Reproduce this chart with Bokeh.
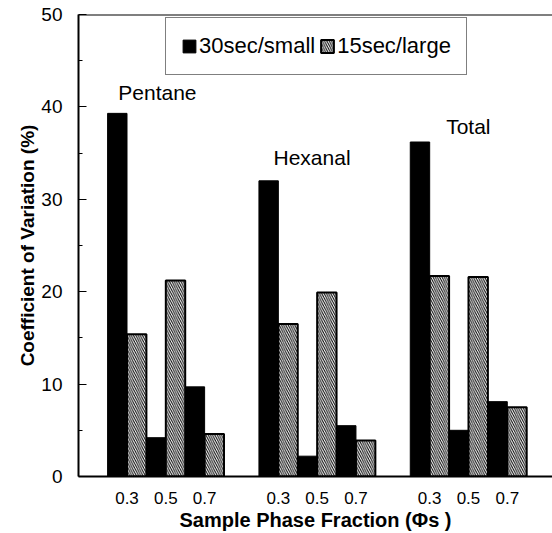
from bokeh.plotting import figure
from bokeh.models import ColumnDataSource, FixedTicker, Span, Legend, LegendItem, Label
from bokeh.embed import file_html
from bokeh.resources import INLINE

# ---- data ----
compounds = ["Pentane", "Hexanal", "Total"]
fractions = ["0.3", "0.5", "0.7"]
series_names = ["30sec/small", "15sec/large"]
cv_30sec_small = [[39.3, 4.2, 9.7],   # Pentane
                  [32.0, 2.2, 5.5],   # Hexanal
                  [36.2, 5.0, 8.1]]   # Total
cv_15sec_large = [[15.4, 21.2, 4.6],
                  [16.5, 19.9, 3.9],
                  [21.7, 21.6, 7.5]]
y_ticks = [0, 10, 20, 30, 40, 50]

# ---- layout (bar units) ----
group_start0 = 1.5
group_step = 7.8
bar_w = 1.0
FONT = "Liberation Sans"

x30, x15, top30, top15, tick_pos, tick_lab = [], [], [], [], [], []
for g, comp in enumerate(compounds):
    gs = group_start0 + g * group_step
    for i, fr in enumerate(fractions):
        left = gs + i * 2 * bar_w
        x30.append(left + 0.5 * bar_w)
        x15.append(left + 1.5 * bar_w)
        top30.append(cv_30sec_small[g][i])
        top15.append(cv_15sec_large[g][i])
        tick_pos.append(left + bar_w)
        tick_lab.append(fr)

src30 = ColumnDataSource(dict(x=x30, top=top30))
src15 = ColumnDataSource(dict(x=x15, top=top15))

p = figure(width=552, height=533, output_backend="svg", toolbar_location=None,
           x_range=(0, 24.43), y_range=(0, 50),
           min_border_left=78, min_border_top=14, min_border_right=0, min_border_bottom=55)
p.outline_line_color = None
p.xgrid.visible = False
p.ygrid.visible = False
p.background_fill_color = "white"

r30 = p.vbar(x="x", top="top", width=bar_w, source=src30, fill_color="black",
             line_color="black", line_width=1)
r15 = p.vbar(x="x", top="top", width=bar_w, source=src15, fill_color="white",
             line_color="black", line_width=2, hatch_pattern="\\", hatch_color="black",
             hatch_scale=4.5, hatch_weight=1)

# axes
p.yaxis.ticker = FixedTicker(ticks=y_ticks, minor_ticks=[5, 15, 25, 35, 45])
p.yaxis.major_tick_in = 8
p.yaxis.major_tick_out = 0
p.yaxis.minor_tick_in = 4
p.yaxis.minor_tick_out = 0
p.yaxis.axis_line_width = 2
p.yaxis.major_label_text_font = FONT
p.yaxis.major_label_text_font_size = "19px"
p.yaxis.major_label_text_color = "black"
p.yaxis.major_label_standoff = 16
p.yaxis.axis_label = "Coefficient of Variation (%)"
p.yaxis.axis_label_text_font = FONT
p.yaxis.axis_label_text_font_size = "19px"
p.yaxis.axis_label_text_font_style = "bold"
p.yaxis.axis_label_text_color = "black"
p.yaxis.axis_label_standoff = 0

p.xaxis.ticker = FixedTicker(ticks=tick_pos)
p.xaxis.major_label_overrides = {t: l for t, l in zip(tick_pos, tick_lab)}
p.xaxis.major_tick_in = 0
p.xaxis.major_tick_out = 0
p.xaxis.minor_tick_line_color = None
p.xaxis.axis_line_width = 2
p.xaxis.major_label_text_font = FONT
p.xaxis.major_label_text_font_size = "17px"
p.xaxis.major_label_text_color = "black"
p.xaxis.major_label_standoff = 15
p.xaxis.axis_label = "Sample Phase Fraction (\u03a6s )"
p.xaxis.axis_label_text_font = FONT
p.xaxis.axis_label_text_font_size = "20px"
p.xaxis.axis_label_text_font_style = "bold"
p.xaxis.axis_label_text_color = "black"
p.xaxis.axis_label_standoff = 2

# top frame line
p.add_layout(Span(location=50, dimension="width", line_color="black", line_width=2))

# compound labels
label_dx = [0.55, 0.75, 1.85]
label_dy = [1.0, 1.3, 0.4]
for g, comp in enumerate(compounds):
    gs = group_start0 + g * group_step
    ymax = max(cv_30sec_small[g] + cv_15sec_large[g])
    p.add_layout(Label(x=gs + label_dx[g], y=ymax + label_dy[g], text=comp,
                       text_font=FONT, text_font_size="21px", text_color="black",
                       text_baseline="bottom"))

legend = Legend(items=[LegendItem(label=series_names[0], renderers=[r30]),
                       LegendItem(label=series_names[1], renderers=[r15])],
                orientation="horizontal", location=(87, 401),
                glyph_width=16, glyph_height=16, label_standoff=2, spacing=4,
                padding=15, margin=0,
                label_text_font=FONT, label_text_font_size="22px", label_text_color="black",
                border_line_color="black", border_line_width=1.5,
                background_fill_alpha=1.0)
p.add_layout(legend, "center")

open("out.html", "w").write(file_html(p, INLINE))
